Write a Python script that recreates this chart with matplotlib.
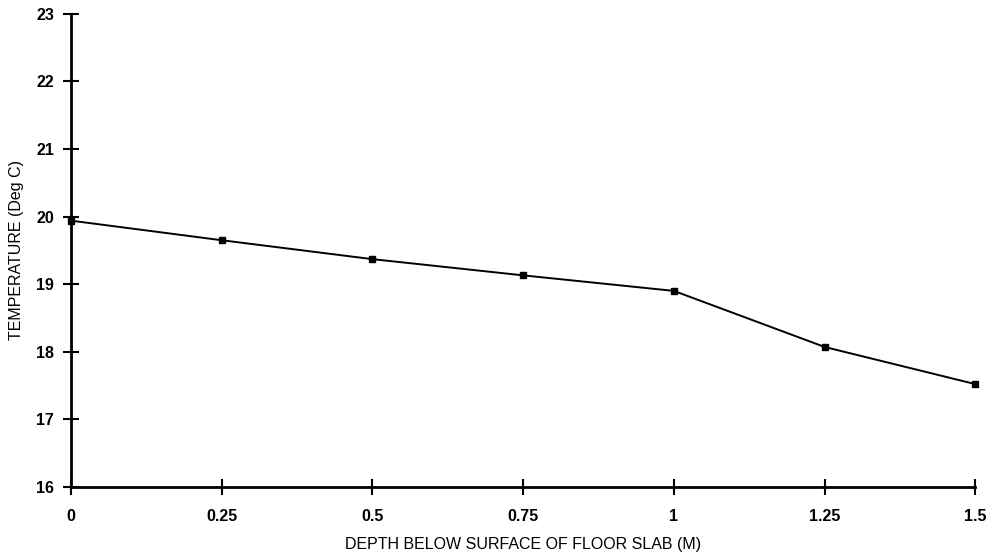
import matplotlib.pyplot as plt

plt.rcParams['font.family'] = ['Liberation Sans', 'DejaVu Sans']

# depth below floor slab (m) and measured temperature (deg C)
depth = [0, 0.25, 0.5, 0.75, 1.0, 1.25, 1.5]
temperature = [19.94, 19.65, 19.37, 19.13, 18.90, 18.07, 17.52]

x_ticks = [0, 0.25, 0.5, 0.75, 1, 1.25, 1.5]
x_tick_labels = ['0', '0.25', '0.5', '0.75', '1', '1.25', '1.5']
y_ticks = [16, 17, 18, 19, 20, 21, 22, 23]

fig = plt.figure(figsize=(9.96, 5.57), dpi=100)
ax = fig.add_axes([0.0713, 0.126, 0.908, 0.849])

ax.plot(depth, temperature, color='black', linewidth=1.4,
        marker='s', markersize=5, clip_on=False, zorder=3)

ax.set_xlim(0, 1.5)
ax.set_ylim(16, 23)
ax.set_xticks(x_ticks)
ax.set_xticklabels(x_tick_labels)
ax.set_yticks(y_ticks)

for side in ['top', 'right']:
    ax.spines[side].set_visible(False)
for side in ['left', 'bottom']:
    ax.spines[side].set_linewidth(2)

ax.tick_params(axis='both', direction='inout', length=12, width=1.5,
               labelsize=11.5, colors='black')
ax.tick_params(axis='x', pad=10)
ax.tick_params(axis='y', pad=6)
for lbl in ax.get_xticklabels() + ax.get_yticklabels():
    lbl.set_fontweight('bold')

ax.set_xlabel('DEPTH BELOW SURFACE OF FLOOR SLAB (M)', fontsize=11.5, labelpad=9)
ax.set_ylabel('TEMPERATURE (Deg C)', fontsize=11.5, labelpad=9)

fig.savefig('out.png', dpi=100)
